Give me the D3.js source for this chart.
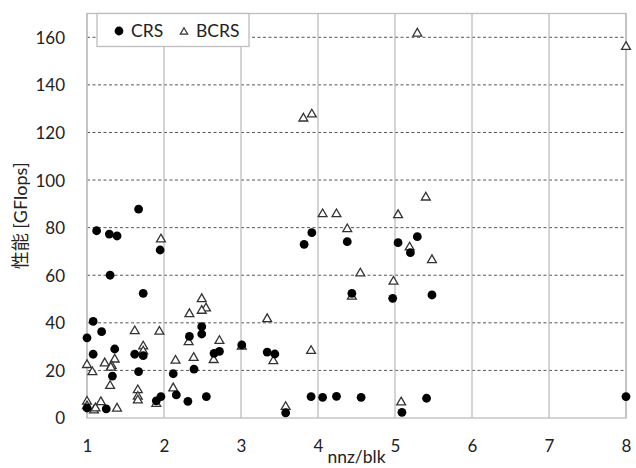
<!DOCTYPE html>
<html>
<head>
<meta charset="utf-8">
<script src="https://cdn.jsdelivr.net/npm/d3@7"></script>
<style>
  body { margin: 0; background: #fff; }
  text { font-family: Lato, "Noto Sans CJK JP", sans-serif; fill: #222; }
</style>
</head>
<body>
<svg id="chart"></svg>
<script>
// nnz/blk vs performance
var crsX = [1.00,1.08,1.125,1.19,1.08,1.29,1.39,1.30,1.36,1.33,1.00,1.25,1.67,1.73,1.62,1.73,1.67,1.95,1.90,1.96,
            2.12,2.16,2.31,2.39,2.33,2.49,2.49,2.55,2.65,2.72,3.01,3.34,3.44,3.58,3.82,3.92,3.91,4.06,4.24,4.38,
            4.44,4.56,4.97,5.04,5.09,5.20,5.29,5.41,5.48,8.0];
var crsY = [33.7,40.6,78.7,36.3,26.8,77.3,76.5,60,29,17.6,4.2,3.8,87.8,52.4,26.8,26.2,19.5,70.6,7.2,9,
            18.6,9.7,7,20.5,34.3,38.4,35.3,9,27.2,28,30.7,27.7,26.9,2.2,73,77.9,9,8.7,9.1,74.1,
            52.4,8.7,50.3,73.7,2.4,69.5,76.2,8.3,51.7,9];
var bcrsX = [1.00,1.00,1.00,1.07,1.09,1.11,1.18,1.23,1.36,1.32,1.31,1.30,1.39,1.62,1.66,1.66,1.66,1.73,1.73,1.90,
             1.96,1.94,2.12,2.15,2.32,2.33,2.385,2.49,2.545,2.49,2.645,2.72,3.01,3.34,3.42,3.58,3.81,3.92,3.91,4.06,
             4.24,4.38,4.44,4.55,4.98,5.04,5.08,5.19,5.29,5.40,5.48,8.0];
var bcrsY = [22.3,6.9,5.0,19.3,3.2,4.1,6.7,23,24.6,21.9,21.2,13.5,4,36.5,11.7,9,7.4,30.1,28,6,
             75.1,36.3,12.5,24.1,31.9,43.7,25.3,50,46.1,45.1,24.4,32.4,30,41.6,23.9,4.7,125.9,127.6,28.2,85.7,
             85.7,79.4,51,60.8,57.3,85.3,6.6,71.7,161.6,92.7,66.4,156];
var xTicks = [1,2,3,4,5,6,7,8];
var yTicks = [0,20,40,60,80,100,120,140,160];
var seriesNames = ["CRS", "BCRS"];

var W = 636, H = 468;
var svg = d3.select("#chart").attr("width", W).attr("height", H);

var x = d3.scaleLinear().domain([1, 8]).range([87, 626]);
var y = d3.scaleLinear().domain([0, 170]).range([418, 13.5]);

// horizontal dashed grid
svg.append("g").selectAll("line").data(yTicks.filter(function(d){ return d > 0; }))
  .join("line")
    .attr("x1", x(1)).attr("x2", x(8))
    .attr("y1", function(d){ return y(d); }).attr("y2", function(d){ return y(d); })
    .attr("stroke", "#555").attr("stroke-width", 1).attr("stroke-dasharray", "3,2.5");

// vertical solid grid
svg.append("g").selectAll("line").data(xTicks)
  .join("line")
    .attr("x1", function(d){ return x(d); }).attr("x2", function(d){ return x(d); })
    .attr("y1", y(170)).attr("y2", y(0))
    .attr("stroke", "#bdbdbd").attr("stroke-width", 1.3);

// frame
svg.append("rect")
  .attr("x", x(1)).attr("y", y(170))
  .attr("width", x(8) - x(1)).attr("height", y(0) - y(170))
  .attr("fill", "none").attr("stroke", "#bdbdbd").attr("stroke-width", 1.3);

// axes (labels only)
var xAxis = svg.append("g").attr("transform", "translate(0," + y(0) + ")")
  .call(d3.axisBottom(x).tickValues(xTicks).tickSize(0).tickPadding(22).tickFormat(d3.format("d")));
var yAxis = svg.append("g").attr("transform", "translate(" + x(1) + ",0)")
  .call(d3.axisLeft(y).tickValues(yTicks).tickSize(0).tickPadding(22).tickFormat(d3.format("d")));
[xAxis, yAxis].forEach(function(a){
  a.select(".domain").remove();
  a.selectAll("text").attr("font-size", 17).attr("font-family", null).attr("fill", "#222");
});
yAxis.selectAll("text").attr("dy", "0.35em");

// points
var crs = crsX.map(function(v, i){ return {x: v, y: crsY[i]}; });
var bcrs = bcrsX.map(function(v, i){ return {x: v, y: bcrsY[i]}; });
var tri = d3.symbol(d3.symbolTriangle, 34);

svg.append("g").selectAll("path").data(bcrs)
  .join("path")
    .attr("d", tri)
    .attr("transform", function(d){ return "translate(" + x(d.x) + "," + y(d.y) + ")"; })
    .attr("fill", "#fff").attr("stroke", "#333").attr("stroke-width", 1.3);

svg.append("g").selectAll("circle").data(crs)
  .join("circle")
    .attr("cx", function(d){ return x(d.x); })
    .attr("cy", function(d){ return y(d.y); })
    .attr("r", 4.4).attr("fill", "#000");

// legend
var lg = svg.append("g");
lg.append("rect").attr("x", 97).attr("y", 13.5).attr("width", 152).attr("height", 33)
  .attr("fill", "#fff").attr("stroke", "#bdbdbd").attr("stroke-width", 1.3);
lg.append("circle").attr("cx", 119).attr("cy", 31).attr("r", 4.4).attr("fill", "#000");
lg.append("text").attr("x", 131).attr("y", 37).attr("font-size", 17.5).text(seriesNames[0]);
lg.append("path").attr("d", d3.symbol(d3.symbolTriangle, 24))
  .attr("transform", "translate(184,32)")
  .attr("fill", "#fff").attr("stroke", "#333").attr("stroke-width", 1.2);
lg.append("text").attr("x", 196).attr("y", 37).attr("font-size", 17.5).text(seriesNames[1]);

// axis titles
svg.append("text").attr("x", (x(1) + x(8)) / 2).attr("y", 463)
  .attr("text-anchor", "middle").attr("font-size", 17.5).text("nnz/blk");
svg.append("text")
  .attr("transform", "translate(27," + (y(0) + y(170)) / 2 + ") rotate(-90)")
  .attr("text-anchor", "middle").attr("font-size", 18).text("性能 [GFlops]");
</script>
</body>
</html>
